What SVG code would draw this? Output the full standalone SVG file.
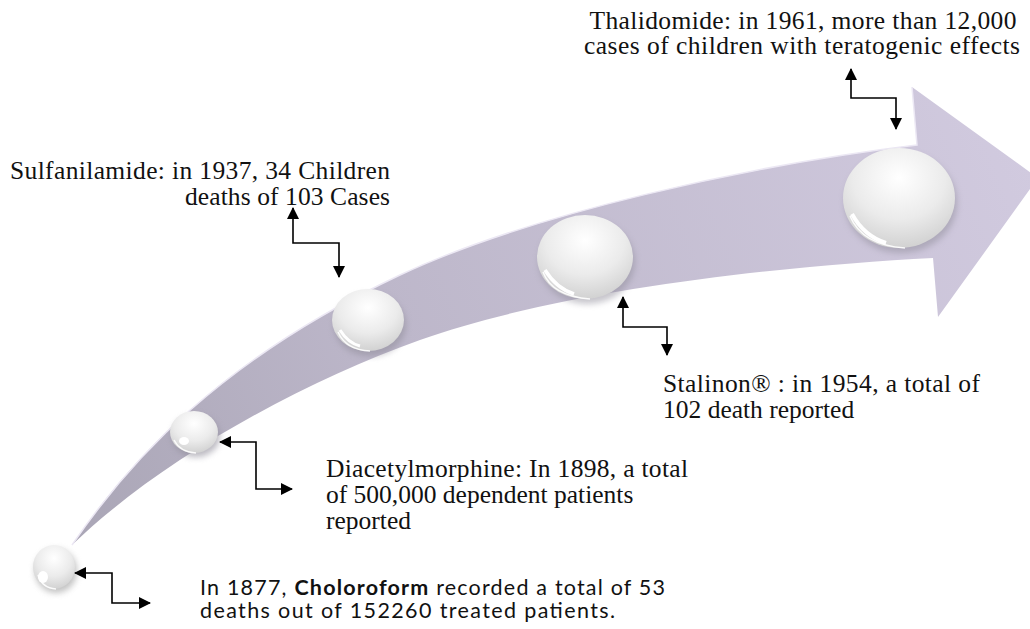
<svg xmlns="http://www.w3.org/2000/svg" width="1030" height="629" viewBox="0 0 1030 629">
  <defs>
    <linearGradient id="band" x1="60" y1="560" x2="1030" y2="160" gradientUnits="userSpaceOnUse">
      <stop offset="0" stop-color="#a9a5b5"/>
      <stop offset="0.35" stop-color="#bcb6c9"/>
      <stop offset="1" stop-color="#d1cadf"/>
    </linearGradient>
    <radialGradient id="pearl" cx="0.5" cy="0.3" r="0.75">
      <stop offset="0" stop-color="#ffffff"/>
      <stop offset="0.55" stop-color="#ebebeb"/>
      <stop offset="1" stop-color="#cdcdcd"/>
    </radialGradient>
    <filter id="blur" x="-30%" y="-30%" width="160%" height="160%">
      <feGaussianBlur stdDeviation="3"/>
    </filter>
    <marker id="ah" viewBox="0 0 12 12" refX="11" refY="6" markerWidth="12" markerHeight="12" markerUnits="userSpaceOnUse" orient="auto-start-reverse">
      <path d="M0,0 L12,6 L0,12 Z" fill="#000"/>
    </marker>
    <style>
      .serif { font-family: "Liberation Serif", "Times New Roman", serif; font-size: 25.5px; fill: #111; }
      .sans { font-family: Lato, "Liberation Sans", Arial, sans-serif; font-size: 21.5px; fill: #111; }
      .conn { fill: none; stroke: #000; stroke-width: 1.6; marker-start: url(#ah); marker-end: url(#ah); }
      .rim { fill: none; stroke: #ffffff; stroke-width: 1.5; opacity: 0.9; }
    </style>
  </defs>

  <g id="timeline-arrow">
    <path d="M72,545 C130,460 220,360 400,275 C530,214 750,165 917,145 L912,87 L1038,178 L938,317 L933,258 C780,266 560,290 420,340 C300,383 160,460 72,545 Z" fill="url(#band)"/>
    <path d="M72,545 C130,460 220,360 400,275 C530,214 750,165 917,145 L912,87" fill="none" stroke="#ece8f4" stroke-width="1.5"/>
  </g>

  <g id="node-1877">
    <ellipse cx="56" cy="571" rx="21" ry="22" fill="#9a9a9a" filter="url(#blur)" opacity="0.6"/>
    <ellipse cx="54" cy="567" rx="21" ry="22" fill="url(#pearl)"/>
    <path d="M38,575 Q42,588 56,589" class="rim"/>
    <ellipse cx="43" cy="577" rx="5" ry="6" fill="#fff"/>
  </g>
  <g id="node-1898">
    <ellipse cx="196" cy="436" rx="24" ry="21" fill="#8f8c99" filter="url(#blur)" opacity="0.6"/>
    <ellipse cx="194" cy="432" rx="24" ry="21" fill="url(#pearl)"/>
    <path d="M174,440 Q180,452 196,453" class="rim"/>
    <ellipse cx="184" cy="441" rx="5" ry="4" fill="#fff"/>
  </g>
  <g id="node-1937">
    <ellipse cx="370" cy="325" rx="36" ry="31" fill="#8f8c99" filter="url(#blur)" opacity="0.55"/>
    <ellipse cx="368" cy="320" rx="36" ry="31" fill="url(#pearl)"/>
    <path d="M338,332 Q346,350 370,351" class="rim" stroke-width="2"/>
    <path d="M340,330 Q348,343 360,346" fill="none" stroke="#fff" stroke-width="3"/>
  </g>
  <g id="node-1954">
    <ellipse cx="587" cy="262" rx="48" ry="42" fill="#8f8c99" filter="url(#blur)" opacity="0.5"/>
    <ellipse cx="585" cy="257" rx="48" ry="42" fill="url(#pearl)"/>
    <path d="M543,272 Q552,296 590,299" class="rim" stroke-width="2"/>
    <path d="M545,270 Q556,288 574,294" fill="none" stroke="#fff" stroke-width="3.5"/>
  </g>
  <g id="node-1961">
    <ellipse cx="901" cy="203" rx="56" ry="50" fill="#8f8c99" filter="url(#blur)" opacity="0.5"/>
    <ellipse cx="899" cy="198" rx="56" ry="50" fill="url(#pearl)"/>
    <path d="M850,216 Q862,245 905,248" class="rim" stroke-width="2"/>
    <path d="M852,214 Q864,236 886,243" fill="none" stroke="#fff" stroke-width="4"/>
  </g>

  <g id="connectors">
    <path class="conn" d="M75,573 H112 V603 H150"/>
    <path class="conn" d="M220,442 H256 V489 H292"/>
    <path class="conn" d="M293,208 V243 H339 V277"/>
    <path class="conn" d="M623,297 V327 H667 V355"/>
    <path class="conn" d="M851,69 V98 H896 V129"/>
  </g>

  <g id="label-1961">
    <text class="serif" x="803" y="29" text-anchor="middle" textLength="427" lengthAdjust="spacing">Thalidomide: in 1961, more than 12,000</text>
    <text class="serif" x="802" y="54" text-anchor="middle" textLength="436" lengthAdjust="spacing">cases of children with teratogenic effects</text>
  </g>
  <g id="label-1937">
    <text class="serif" x="10" y="179" textLength="380" lengthAdjust="spacing">Sulfanilamide: in 1937, 34 Children</text>
    <text class="serif" x="185" y="205" textLength="205" lengthAdjust="spacing">deaths of 103 Cases</text>
  </g>
  <g id="label-1954">
    <text class="serif" x="663" y="392" textLength="317" lengthAdjust="spacing">Stalinon® : in 1954, a total of</text>
    <text class="serif" x="663" y="418">102 death reported</text>
  </g>
  <g id="label-1898">
    <text class="serif" x="326" y="477" textLength="362" lengthAdjust="spacing">Diacetylmorphine: In 1898, a total</text>
    <text class="serif" x="326" y="503">of 500,000 dependent patients</text>
    <text class="serif" x="326" y="529">reported</text>
  </g>
  <g id="label-1877">
    <text class="sans" x="200" y="595" textLength="465" lengthAdjust="spacing">In 1877, <tspan font-weight="bold">Choloroform</tspan> recorded a total of 53</text>
    <text class="sans" x="200" y="618" textLength="415" lengthAdjust="spacing">deaths out of 152260 treated patients.</text>
  </g>
</svg>
